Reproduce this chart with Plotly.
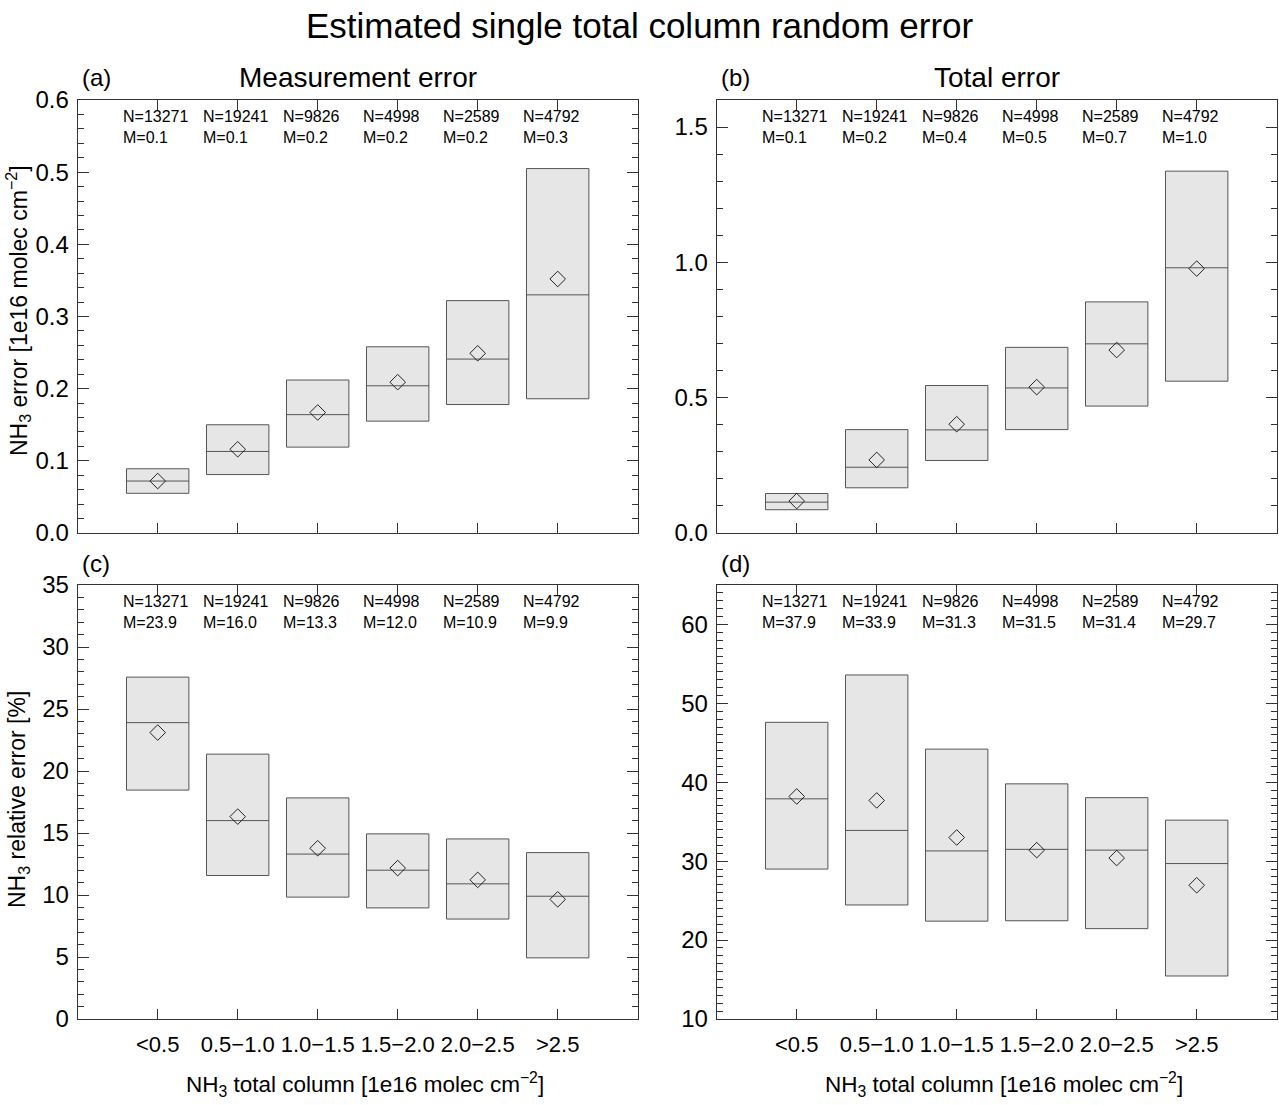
import plotly.graph_objects as go

W, H = 1279, 1105

categories = ["<0.5", "0.5\u22121.0", "1.0\u22121.5", "1.5\u22122.0", "2.0\u22122.5", ">2.5"]
counts = [13271, 19241, 9826, 4998, 2589, 4792]

# (a) Measurement error [1e16 molec cm-2]
meas_q1 = [0.055, 0.081, 0.119, 0.155, 0.178, 0.186]
meas_med = [0.072, 0.113, 0.164, 0.204, 0.241, 0.330]
meas_q3 = [0.089, 0.150, 0.212, 0.258, 0.322, 0.505]
meas_mean = [0.072, 0.116, 0.167, 0.209, 0.249, 0.352]

# (b) Total error [1e16 molec cm-2]
tot_q1 = [0.086, 0.167, 0.268, 0.382, 0.469, 0.561]
tot_med = [0.114, 0.243, 0.381, 0.536, 0.699, 0.980]
tot_q3 = [0.146, 0.382, 0.545, 0.686, 0.854, 1.337]
tot_mean = [0.118, 0.270, 0.402, 0.539, 0.676, 0.977]

# (c) Measurement relative error [%]
rmeas_q1 = [18.46, 11.57, 9.83, 8.96, 8.06, 4.93]
rmeas_med = [23.9, 16.0, 13.3, 12.0, 10.9, 9.9]
rmeas_q3 = [27.57, 21.36, 17.83, 14.93, 14.52, 13.42]
rmeas_mean = [23.1, 16.32, 13.77, 12.17, 11.22, 9.65]

# (d) Total relative error [%]
rtot_q1 = [29.0, 24.45, 22.4, 22.45, 21.45, 15.45]
rtot_med = [37.9, 33.9, 31.3, 31.5, 31.4, 29.7]
rtot_q3 = [47.6, 53.6, 44.2, 39.8, 38.05, 35.2]
rtot_mean = [38.2, 37.7, 33.0, 31.4, 30.4, 26.95]

FONT = "Liberation Sans, Arial, Helvetica, sans-serif"
FRAME = "#333333"
BOXLINE = "#555555"
BOXFILL = "#e6e6e6"


def px(x):
    return x / W


def py(y):
    return 1 - y / H


# panel frames in pixels: (left, right, top, bottom)
frames = {
    "a": (77.7, 637.7, 100, 533),
    "b": (716.7, 1276.7, 100, 533),
    "c": (77.7, 637.7, 585, 1019),
    "d": (716.7, 1276.7, 585, 1019),
}

panels = [
    ("a", meas_q1, meas_med, meas_q3, meas_mean, [0, 0.6], 0.1, 0.02, ".1f", "Measurement error"),
    ("b", tot_q1, tot_med, tot_q3, tot_mean, [0, 1.6], 0.5, 0.1, ".1f", "Total error"),
    ("c", rmeas_q1, rmeas_med, rmeas_q3, rmeas_mean, [0, 35], 5, 1, "d", None),
    ("d", rtot_q1, rtot_med, rtot_q3, rtot_mean, [10, 65], 10, 1, "d", None),
]

fig = go.Figure()
xs = list(range(len(categories)))
annotations = []
layout = {}

for i, (key, q1, med, q3, mean, yr, dt, mdt, fmt, subtitle) in enumerate(panels):
    n = i + 1
    xa = "x" if n == 1 else f"x{n}"
    ya = "y" if n == 1 else f"y{n}"
    l, r, t, b = frames[key]
    fig.add_trace(go.Box(
        x=xs, q1=q1, median=med, q3=q3, lowerfence=q1, upperfence=q3,
        width=0.78, whiskerwidth=0, fillcolor=BOXFILL,
        line=dict(color=BOXLINE, width=1), boxpoints=False,
        xaxis=xa, yaxis=ya, showlegend=False,
    ))
    fig.add_trace(go.Scatter(
        x=xs, y=mean, mode="markers",
        marker=dict(symbol="diamond-open", size=12, color="#222222", line=dict(width=1)),
        xaxis=xa, yaxis=ya, showlegend=False,
    ))
    bottom = key in ("c", "d")
    layout["xaxis" if n == 1 else f"xaxis{n}"] = dict(
        domain=[px(l), px(r)], anchor=ya, range=[-1, 6],
        tickmode="array", tickvals=xs, ticktext=categories,
        showticklabels=bottom, ticks="inside", ticklen=10, tickcolor=FRAME,
        mirror="allticks", showline=True, linecolor=FRAME, linewidth=1,
        showgrid=False, zeroline=False, automargin=False,
        tickfont=dict(family=FONT, size=22, color="black"),
        ticklabelstandoff=6,
    )
    layout["yaxis" if n == 1 else f"yaxis{n}"] = dict(
        domain=[py(b), py(t)], anchor=xa, range=yr,
        tick0=0, dtick=dt, tickformat=fmt,
        ticks="inside", ticklen=11, tickcolor=FRAME,
        minor=dict(dtick=mdt, ticks="inside", ticklen=6, tickcolor=FRAME),
        mirror="allticks", showline=True, linecolor=FRAME, linewidth=1,
        showgrid=False, zeroline=False, automargin=False,
        tickfont=dict(family=FONT, size=24, color="black"),
        ticklabelstandoff=3,
    )
    # N / M texts
    for j in xs:
        annotations.append(dict(
            x=j - 0.46, y=1 - 16 / (b - t), xref=xa, yref=f"{ya} domain",
            text=f"N={counts[j]}", showarrow=False, xanchor="left", yanchor="middle",
            font=dict(family=FONT, size=16, color="black"),
        ))
        annotations.append(dict(
            x=j - 0.46, y=1 - 37 / (b - t), xref=xa, yref=f"{ya} domain",
            text=f"M={med[j]:.1f}", showarrow=False, xanchor="left", yanchor="middle",
            font=dict(family=FONT, size=16, color="black"),
        ))
    # panel letter
    annotations.append(dict(
        x=px(l + 2), y=py(t - 22), xref="paper", yref="paper",
        text=f"({key})", showarrow=False, xanchor="left", yanchor="middle",
        font=dict(family=FONT, size=24, color="black"),
    ))
    if subtitle:
        annotations.append(dict(
            x=px((l + r) / 2), y=py(t - 22), xref="paper", yref="paper",
            text=subtitle, showarrow=False, xanchor="center", yanchor="middle",
            font=dict(family=FONT, size=28, color="black"),
        ))
    if bottom:
        annotations.append(dict(
            x=px((l + r) / 2 + 7), y=py(1084), xref="paper", yref="paper",
            text="NH<sub>3</sub> total column [1e16 molec cm<sup>\u22122</sup>]",
            showarrow=False, xanchor="center", yanchor="middle",
            font=dict(family=FONT, size=22.5, color="black"),
        ))

# y-axis titles
annotations.append(dict(
    x=px(18), y=py(311), xref="paper", yref="paper", textangle=-90,
    text="NH<sub>3</sub> error [1e16 molec cm<sup>\u22122</sup>]",
    showarrow=False, xanchor="center", yanchor="middle",
    font=dict(family=FONT, size=23, color="black"),
))
annotations.append(dict(
    x=px(18), y=py(800), xref="paper", yref="paper", textangle=-90,
    text="NH<sub>3</sub> relative error [%]",
    showarrow=False, xanchor="center", yanchor="middle",
    font=dict(family=FONT, size=23, color="black"),
))
# main title
annotations.append(dict(
    x=0.5, y=py(25), xref="paper", yref="paper",
    text="Estimated single total column random error",
    showarrow=False, xanchor="center", yanchor="middle",
    font=dict(family=FONT, size=35, color="black"),
))

fig.update_layout(
    width=W, height=H, autosize=False,
    margin=dict(l=0, r=0, t=0, b=0, pad=0, autoexpand=False),
    paper_bgcolor="white", plot_bgcolor="white",
    annotations=annotations, showlegend=False,
    **layout,
)

fig.write_html(
    "out.html",
    config={"displayModeBar": False, "responsive": False},
    post_script="document.body.style.margin='0px';document.body.style.overflow='hidden';",
)
